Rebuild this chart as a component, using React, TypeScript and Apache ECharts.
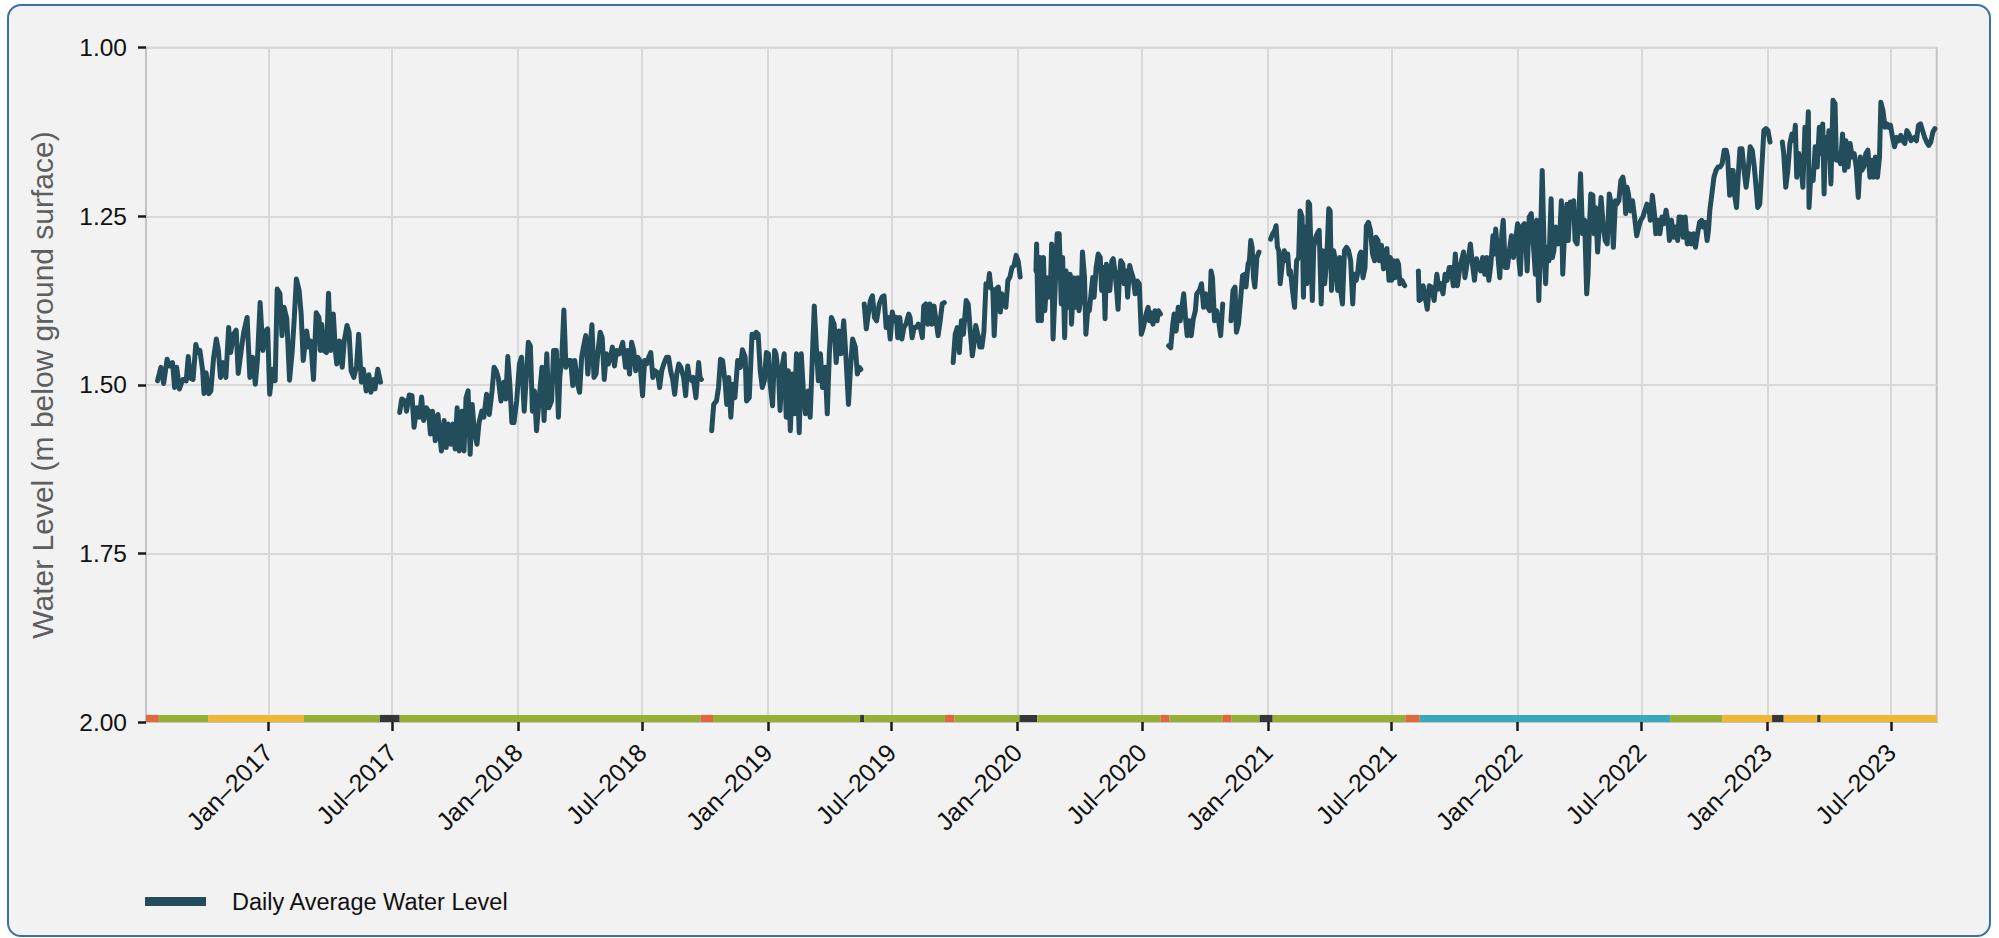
import React, { useEffect, useRef } from "react";
import * as echarts from "echarts";

// Day offsets are days since 2017-01-01 (UTC); levels are metres below ground surface.
const levelsJul2016 = [[-162,1.494],[-157,1.474],[-153,1.498],[-148,1.462],[-144,1.472],[-140,1.467],[-137,1.504],[-134,1.474],[-130,1.506],[-125,1.492],[-120,1.494],[-117,1.458],[-114,1.490],[-110,1.492],[-106,1.440],[-103,1.452],[-100,1.449],[-96,1.479],[-94,1.513],[-91,1.482],[-87,1.513],[-84,1.509],[-80,1.460],[-76,1.432],[-73,1.449],[-70,1.489],[-66,1.467],[-62,1.489],[-58,1.415],[-55,1.452],[-51,1.425],[-47,1.419],[-44,1.483],[-39,1.444],[-36,1.422],[-31,1.400],[-27,1.489],[-23,1.459],[-19,1.499],[-16,1.464],[-12,1.378],[-8,1.449],[-4,1.420],[-1,1.417],[2,1.514],[6,1.477],[10,1.494],[13,1.358],[17,1.365],[20,1.427],[23,1.385],[27,1.402],[31,1.493],[35,1.449],[38,1.400],[41,1.343],[45,1.360],[48,1.395],[51,1.464],[56,1.420],[59,1.444],[62,1.435],[66,1.492],[70,1.393],[74,1.400],[76,1.449],[78,1.410],[81,1.449],[85,1.452],[88,1.364],[91,1.449],[95,1.395],[98,1.449],[100,1.469],[104,1.435],[108,1.474],[111,1.435],[115,1.412],[118,1.422],[121,1.479],[125,1.489],[129,1.472],[132,1.425],[136,1.496],[139,1.477],[143,1.509],[147,1.485],[150,1.511],[154,1.492],[156,1.506],[160,1.477],[164,1.496]];

const levelsJul2017 = [[192,1.541],[195,1.521],[200,1.524],[202,1.539],[206,1.515],[210,1.516],[213,1.563],[217,1.534],[221,1.548],[224,1.518],[227,1.553],[231,1.534],[234,1.539],[237,1.573],[240,1.539],[244,1.583],[248,1.544],[251,1.578],[253,1.598],[257,1.553],[260,1.593],[263,1.558],[267,1.588],[270,1.558],[273,1.595],[276,1.534],[279,1.598],[283,1.539],[286,1.598],[289,1.519],[292,1.509],[295,1.603],[298,1.529],[301,1.568],[305,1.588],[308,1.556],[312,1.539],[315,1.548],[319,1.514],[323,1.544],[327,1.509],[330,1.474],[333,1.479],[336,1.489],[340,1.524],[344,1.496],[347,1.521],[350,1.458],[353,1.499],[356,1.556],[359,1.556],[363,1.524],[367,1.469],[370,1.459],[374,1.539],[377,1.489],[380,1.437],[383,1.442],[386,1.539],[389,1.509],[392,1.568],[396,1.519],[400,1.474],[403,1.553],[407,1.454],[410,1.534],[414,1.524],[417,1.449],[421,1.449],[424,1.548],[426,1.489],[429,1.459],[432,1.389],[435,1.474],[439,1.464],[442,1.464],[445,1.501],[448,1.464],[452,1.499],[455,1.511],[458,1.459],[461,1.442],[464,1.427],[467,1.484],[470,1.449],[473,1.411],[476,1.489],[479,1.484],[482,1.449],[485,1.422],[488,1.430],[491,1.492],[494,1.454],[497,1.469],[500,1.459],[503,1.444],[506,1.472],[509,1.449],[513,1.454],[516,1.444],[518,1.437],[522,1.474],[525,1.449],[528,1.484],[531,1.437],[534,1.449],[537,1.479],[540,1.459],[543,1.464],[547,1.516],[550,1.464],[553,1.469],[556,1.459],[559,1.452],[562,1.489],[565,1.479],[569,1.482],[572,1.504],[575,1.479],[578,1.469],[582,1.459],[585,1.459],[588,1.479],[591,1.492],[594,1.514],[597,1.484],[600,1.469],[603,1.474],[607,1.489],[610,1.516],[613,1.472],[615,1.487],[619,1.494],[621,1.489],[625,1.519],[629,1.467],[631,1.489],[633,1.492]];

const levelsOct2018 = [[648,1.568],[651,1.529],[655,1.524],[658,1.504],[661,1.462],[664,1.464],[668,1.499],[670,1.529],[673,1.489],[676,1.548],[679,1.499],[682,1.519],[686,1.464],[690,1.474],[693,1.448],[697,1.459],[699,1.524],[703,1.519],[707,1.425],[710,1.430],[713,1.422],[716,1.425],[719,1.479],[722,1.504],[725,1.494],[728,1.452],[731,1.454],[733,1.494],[737,1.531],[740,1.449],[742,1.454],[746,1.489],[748,1.538],[751,1.474],[754,1.454],[757,1.548],[760,1.479],[763,1.568],[766,1.484],[769,1.543],[772,1.454],[776,1.571],[779,1.454],[782,1.509],[785,1.543],[789,1.509],[792,1.548],[795,1.464],[798,1.383],[801,1.444],[804,1.494],[807,1.454],[810,1.504],[814,1.474],[817,1.543],[820,1.454],[823,1.400],[827,1.410],[830,1.467],[834,1.420],[837,1.454],[841,1.405],[844,1.454],[848,1.529],[851,1.474],[854,1.432],[858,1.444],[861,1.484],[864,1.474],[866,1.477]];

const levelsJun2019 = [[871,1.380],[874,1.417],[877,1.395],[880,1.375],[883,1.368],[886,1.400],[889,1.405],[893,1.380],[897,1.370],[900,1.368],[903,1.415],[906,1.400],[909,1.432],[912,1.392],[915,1.405],[918,1.400],[920,1.430],[923,1.400],[926,1.432],[929,1.415],[932,1.410],[936,1.395],[938,1.400],[941,1.430],[944,1.415],[947,1.415],[950,1.410],[953,1.415],[956,1.430],[958,1.383],[961,1.380],[964,1.410],[967,1.380],[970,1.410],[973,1.383],[976,1.405],[979,1.427],[982,1.405],[985,1.380],[988,1.378]];

const levelsSep2019 = [[1001,1.467],[1004,1.425],[1007,1.415],[1010,1.452],[1013,1.405],[1016,1.425],[1020,1.375],[1023,1.380],[1026,1.420],[1029,1.457],[1032,1.435],[1034,1.412],[1038,1.430],[1040,1.444],[1043,1.444],[1046,1.420],[1049,1.350],[1052,1.355],[1054,1.335],[1056,1.355],[1059,1.360],[1061,1.427],[1064,1.358],[1067,1.355],[1070,1.392],[1072,1.365],[1075,1.375],[1078,1.385],[1081,1.345],[1084,1.340],[1087,1.326],[1090,1.323],[1093,1.308],[1096,1.316],[1099,1.340]];

const levelsJan2020 = [[1122,1.331],[1123,1.291],[1125,1.405],[1128,1.311],[1130,1.405],[1133,1.311],[1135,1.390],[1138,1.341],[1140,1.370],[1143,1.360],[1145,1.291],[1147,1.432],[1150,1.360],[1153,1.276],[1156,1.276],[1159,1.380],[1161,1.311],[1164,1.430],[1166,1.331],[1169,1.385],[1172,1.336],[1174,1.410],[1177,1.341],[1180,1.385],[1183,1.341],[1185,1.390],[1188,1.370],[1190,1.303],[1193,1.341],[1195,1.425],[1198,1.385],[1200,1.390],[1203,1.360],[1205,1.341],[1207,1.370],[1210,1.326],[1213,1.306],[1216,1.311],[1218,1.360],[1221,1.326],[1223,1.402],[1225,1.321],[1228,1.341],[1230,1.360],[1233,1.316],[1235,1.313],[1238,1.336],[1240,1.360],[1242,1.388],[1244,1.341],[1246,1.316],[1249,1.321],[1251,1.350],[1254,1.331],[1256,1.370],[1259,1.323],[1261,1.331],[1264,1.341],[1267,1.365],[1270,1.346],[1273,1.350],[1276,1.425],[1279,1.415],[1283,1.395],[1286,1.385],[1288,1.405],[1290,1.393],[1293,1.410],[1296,1.390],[1299,1.405],[1301,1.390],[1304,1.395]];

const levelsAug2020 = [[1316,1.442],[1319,1.445],[1322,1.410],[1324,1.395],[1327,1.420],[1330,1.385],[1333,1.405],[1336,1.380],[1338,1.365],[1341,1.405],[1343,1.427],[1346,1.405],[1349,1.427],[1352,1.402],[1355,1.390],[1357,1.365],[1361,1.360],[1364,1.350],[1367,1.385],[1370,1.365],[1373,1.385],[1376,1.390],[1378,1.331],[1380,1.341],[1383,1.405],[1386,1.390],[1389,1.405],[1392,1.427],[1395,1.380]];

const levelsNov2020 = [[1407,1.405],[1410,1.360],[1413,1.355],[1415,1.422],[1418,1.410],[1421,1.375],[1424,1.338],[1427,1.336],[1429,1.355],[1432,1.321],[1434,1.316],[1436,1.286],[1438,1.296],[1440,1.341],[1442,1.355],[1445,1.311],[1448,1.303]];

const levelsJan2021 = [[1465,1.284],[1468,1.276],[1471,1.271],[1473,1.264],[1475,1.296],[1477,1.301],[1479,1.350],[1482,1.321],[1485,1.301],[1488,1.316],[1490,1.306],[1492,1.336],[1494,1.331],[1497,1.360],[1500,1.385],[1503,1.316],[1506,1.311],[1508,1.242],[1511,1.251],[1513,1.370],[1515,1.266],[1518,1.350],[1520,1.229],[1522,1.232],[1524,1.301],[1526,1.375],[1528,1.296],[1531,1.281],[1534,1.274],[1536,1.271],[1539,1.380],[1541,1.301],[1544,1.350],[1547,1.316],[1550,1.239],[1552,1.242],[1554,1.360],[1557,1.301],[1560,1.316],[1563,1.360],[1566,1.311],[1568,1.365],[1570,1.380],[1573,1.301],[1576,1.296],[1579,1.301],[1582,1.316],[1585,1.380],[1587,1.336],[1590,1.345],[1592,1.336],[1595,1.308],[1597,1.303],[1600,1.341],[1603,1.326],[1605,1.264],[1608,1.259],[1611,1.271],[1614,1.306],[1617,1.316],[1619,1.281],[1622,1.286],[1624,1.316],[1627,1.293],[1630,1.328],[1633,1.301],[1635,1.298],[1638,1.345],[1640,1.311],[1642,1.345],[1645,1.316],[1647,1.341],[1650,1.316],[1652,1.321],[1654,1.350],[1657,1.345],[1661,1.353]];

const levelsAug2021 = [[1681,1.331],[1682,1.375],[1685,1.373],[1688,1.353],[1691,1.370],[1694,1.388],[1697,1.353],[1700,1.355],[1704,1.375],[1708,1.336],[1711,1.358],[1714,1.350],[1717,1.365],[1720,1.336],[1723,1.345],[1726,1.326],[1729,1.326],[1732,1.353],[1735,1.306],[1738,1.353],[1741,1.331],[1744,1.316],[1747,1.303],[1749,1.341],[1752,1.321],[1755,1.306],[1757,1.291],[1760,1.321],[1763,1.345],[1766,1.313],[1769,1.326],[1772,1.331],[1775,1.311],[1778,1.336],[1781,1.311],[1784,1.345],[1787,1.321],[1790,1.279],[1792,1.306],[1794,1.269],[1797,1.306],[1800,1.341],[1803,1.276],[1805,1.256],[1808,1.326],[1811,1.326],[1814,1.301],[1817,1.279],[1820,1.311],[1823,1.286],[1826,1.261],[1828,1.316],[1830,1.336],[1833,1.264],[1836,1.261],[1838,1.286],[1840,1.331],[1843,1.251],[1846,1.246],[1849,1.291],[1852,1.336],[1854,1.256],[1857,1.375],[1859,1.306],[1862,1.182],[1865,1.306],[1867,1.350],[1869,1.296],[1872,1.316],[1875,1.224],[1877,1.311],[1879,1.301],[1882,1.266],[1885,1.291],[1888,1.271],[1890,1.227],[1892,1.336],[1895,1.266],[1898,1.232],[1900,1.286],[1903,1.229],[1906,1.242],[1908,1.227],[1910,1.286],[1913,1.291],[1916,1.237],[1918,1.187],[1921,1.276],[1924,1.256],[1927,1.365],[1929,1.336],[1931,1.266],[1933,1.217],[1936,1.219],[1938,1.276],[1940,1.237],[1943,1.303],[1946,1.256],[1948,1.222],[1951,1.261],[1954,1.286],[1957,1.291],[1960,1.217],[1963,1.232],[1966,1.296],[1969,1.227],[1971,1.232],[1974,1.227],[1977,1.197],[1980,1.192],[1982,1.207],[1984,1.246],[1986,1.207],[1988,1.217],[1991,1.242],[1994,1.227],[1997,1.251],[2000,1.279],[2003,1.266],[2006,1.256],[2009,1.251],[2012,1.242],[2015,1.232],[2018,1.237],[2020,1.256],[2023,1.219],[2026,1.246],[2028,1.276],[2031,1.256],[2034,1.276],[2037,1.251],[2040,1.261],[2043,1.241],[2046,1.261],[2048,1.286],[2051,1.256],[2054,1.281],[2057,1.266],[2060,1.286],[2062,1.251],[2065,1.251],[2068,1.281],[2071,1.251],[2074,1.291],[2077,1.276],[2080,1.291],[2083,1.276],[2086,1.296],[2089,1.276],[2092,1.259],[2095,1.256],[2097,1.266],[2100,1.259],[2103,1.286],[2105,1.271],[2107,1.241],[2110,1.217],[2113,1.192],[2116,1.182],[2119,1.177],[2122,1.177],[2125,1.172],[2128,1.152],[2131,1.152],[2133,1.162],[2136,1.219],[2138,1.182],[2141,1.182],[2143,1.217],[2146,1.237],[2149,1.182],[2151,1.150],[2154,1.150],[2157,1.182],[2160,1.207],[2163,1.182],[2166,1.147],[2169,1.152],[2172,1.177],[2175,1.212],[2177,1.237],[2180,1.232],[2183,1.177],[2186,1.123],[2189,1.120],[2192,1.123],[2195,1.140]];

const levelsJan2023 = [[2213,1.140],[2215,1.157],[2218,1.207],[2221,1.182],[2224,1.142],[2227,1.128],[2230,1.138],[2232,1.115],[2234,1.192],[2237,1.157],[2240,1.172],[2243,1.207],[2246,1.118],[2249,1.147],[2251,1.095],[2252,1.237],[2255,1.182],[2258,1.197],[2261,1.147],[2264,1.177],[2267,1.118],[2270,1.157],[2272,1.113],[2274,1.217],[2276,1.133],[2279,1.162],[2281,1.123],[2284,1.202],[2287,1.078],[2290,1.083],[2292,1.167],[2295,1.157],[2298,1.172],[2301,1.128],[2304,1.182],[2306,1.138],[2309,1.177],[2312,1.142],[2315,1.162],[2318,1.157],[2321,1.177],[2324,1.222],[2327,1.162],[2329,1.182],[2332,1.177],[2335,1.157],[2338,1.152],[2341,1.192],[2344,1.167],[2346,1.192],[2349,1.162],[2352,1.192],[2355,1.162],[2357,1.081],[2360,1.093],[2363,1.118],[2366,1.113],[2368,1.118],[2371,1.115],[2374,1.133],[2377,1.147],[2380,1.133],[2383,1.138],[2386,1.130],[2389,1.138],[2392,1.142],[2395,1.123],[2398,1.128],[2401,1.138],[2404,1.135],[2406,1.133],[2409,1.138],[2412,1.115],[2415,1.113],[2418,1.123],[2421,1.133],[2424,1.140],[2427,1.145],[2430,1.140],[2433,1.125],[2436,1.120]];

const levelSegments = [levelsJul2016, levelsJul2017, levelsOct2018, levelsJun2019, levelsSep2019, levelsJan2020, levelsAug2020, levelsNov2020, levelsJan2021, levelsAug2021, levelsJan2023];

// Status strip along the bottom of the plot (day offsets since 2017-01-01)
const stripStartDays = [-178.8, -160, -88, 52, 163, 192, 632, 650, 865, 871, 989, 1003, 1098, 1124, 1304, 1317, 1395, 1408, 1449, 1468, 1662, 1683, 2049, 2125, 2198, 2215, 2264, 2269];
const stripEndDays   = [-160, -88, 52, 163, 192, 632, 650, 865, 871, 989, 1003, 1098, 1124, 1304, 1317, 1395, 1408, 1449, 1468, 1662, 1683, 2049, 2125, 2198, 2215, 2264, 2269, 2438.6];
const stripCodes     = ["R", "G", "Y", "G", "D", "G", "R", "G", "D", "G", "R", "G", "D", "G", "R", "G", "R", "G", "D", "G", "R", "T", "G", "Y", "D", "Y", "D", "Y"];
const stripColors: Record<string, string> = { R: "#e2673b", G: "#95b034", Y: "#f2b634", D: "#363639", T: "#37a9bc" };

const axisStartDay = -178.8;
const axisEndDay = 2438.6;
const tickYears = [2017, 2018, 2019, 2020, 2021, 2022, 2023];
const tickMonths = [0, 6];
const monthNames = ["Jan", "Feb", "Mar", "Apr", "May", "Jun", "Jul", "Aug", "Sep", "Oct", "Nov", "Dec"];
const yTicks = [1.0, 1.25, 1.5, 1.75, 2.0];

const SERIES_NAME = "Daily Average Water Level";
const Y_TITLE = "Water Level (m below ground surface)";
const FONT = '"Liberation Sans", Arial, Helvetica, sans-serif';
const DAY_MS = 86400000;
const BASE = Date.UTC(2017, 0, 1);
const dayToTs = (d: number) => BASE + d * DAY_MS;

export default function App() {
  const ref = useRef<HTMLDivElement>(null);

  useEffect(() => {
    if (!ref.current) return;
    const chart = echarts.init(ref.current, null, { renderer: "svg" });

    const lineData: any[] = [];
    levelSegments.forEach((seg, i) => {
      seg.forEach(([d, v]) => lineData.push([dayToTs(d), v]));
      if (i < levelSegments.length - 1) {
        const last = seg[seg.length - 1][0];
        lineData.push([dayToTs(last + 0.5), "-"]);
      }
    });

    const stripKeys = Object.keys(stripColors);
    const stripData = stripStartDays.map((s, i) => [dayToTs(s), dayToTs(stripEndDays[i]), stripKeys.indexOf(stripCodes[i])]);

    const tickValues: number[] = [];
    tickYears.forEach((y) => tickMonths.forEach((m) => tickValues.push(Date.UTC(y, m, 1))));

    const STRIP_TOP = 1.9895;
    const STRIP_BOTTOM = 2.0;

    chart.setOption({
      animation: false,
      textStyle: { fontFamily: FONT },
      grid: {
        left: 146,
        right: 62.3,
        top: 47.7,
        bottom: 216,
        show: true,
        borderColor: "#c3c3c3",
        borderWidth: 2,
        backgroundColor: "transparent",
      },
      legend: {
        data: [SERIES_NAME],
        left: 145,
        top: 889.5,
        icon: "rect",
        itemWidth: 61,
        itemHeight: 9,
        padding: 0,
        textStyle: { fontSize: 23.5, color: "#111111", fontFamily: FONT, padding: [0, 0, 0, 21] },
      },
      graphic: [
        {
          type: "text",
          x: 42.5,
          y: 385,
          rotation: Math.PI / 2,
          style: {
            text: Y_TITLE,
            fontSize: 30,
            fontFamily: FONT,
            fill: "#5e5e5e",
            align: "center",
            verticalAlign: "middle",
          },
        },
      ],
      xAxis: {
        type: "value",
        min: dayToTs(axisStartDay),
        max: dayToTs(axisEndDay),
        axisLine: { show: true, lineStyle: { color: "#c3c3c3", width: 2 } },
        axisTick: { show: true, customValues: tickValues, length: 9, lineStyle: { color: "#1a1a1a", width: 2.5 } },
        axisLabel: {
          customValues: tickValues,
          rotate: 45,
          margin: 26,
          fontSize: 25,
          color: "#111111",
          fontFamily: FONT,
          formatter: (val: number) => {
            const dt = new Date(val);
            return monthNames[dt.getUTCMonth()] + "\u2013" + dt.getUTCFullYear();
          },
        },
        splitLine: { show: true, lineStyle: { color: "#d8d8d8", width: 2 } },
      },
      yAxis: {
        type: "value",
        inverse: true,
        min: yTicks[0],
        max: yTicks[yTicks.length - 1],
        interval: 0.25,
        axisLine: { show: true, lineStyle: { color: "#c3c3c3", width: 2 } },
        axisTick: { show: true, length: 8, lineStyle: { color: "#1a1a1a", width: 2.5 } },
        axisLabel: {
          margin: 19,
          fontSize: 24.5,
          color: "#111111",
          fontFamily: FONT,
          formatter: (v: number) => v.toFixed(2),
        },
        splitLine: { show: true, lineStyle: { color: "#d8d8d8", width: 2 } },
      },
      series: [
        {
          type: "custom",
          name: "Status",
          z: 1,
          silent: true,
          encode: { x: [0, 1], y: 2 },
          data: stripData,
          renderItem: (params: any, api: any) => {
            const a = api.coord([api.value(0), STRIP_TOP]);
            const b = api.coord([api.value(1), STRIP_BOTTOM]);
            return {
              type: "rect",
              shape: { x: a[0], y: a[1], width: b[0] - a[0], height: b[1] - a[1] },
              style: { fill: stripColors[stripKeys[api.value(2)]] },
            };
          },
        },
        {
          type: "line",
          name: SERIES_NAME,
          data: lineData,
          showSymbol: false,
          connectNulls: false,
          z: 3,
          color: "#244d5c",
          lineStyle: { color: "#244d5c", width: 5, cap: "round", join: "round" },
        },
      ],
    });

    return () => chart.dispose();
  }, []);

  return (
    <div style={{ position: "absolute", left: 0, top: 0, width: 1999, height: 938, background: "#ffffff", overflow: "hidden" }}>
      <div
        style={{
          position: "absolute",
          left: 7,
          top: 4,
          width: 1984,
          height: 933,
          boxSizing: "border-box",
          border: "2px solid #3c6fa8",
          borderRadius: 14,
          background: "#f2f2f2",
        }}
      />
      <div ref={ref} style={{ position: "absolute", left: 0, top: 0, width: 1999, height: 938 }} />
    </div>
  );
}
